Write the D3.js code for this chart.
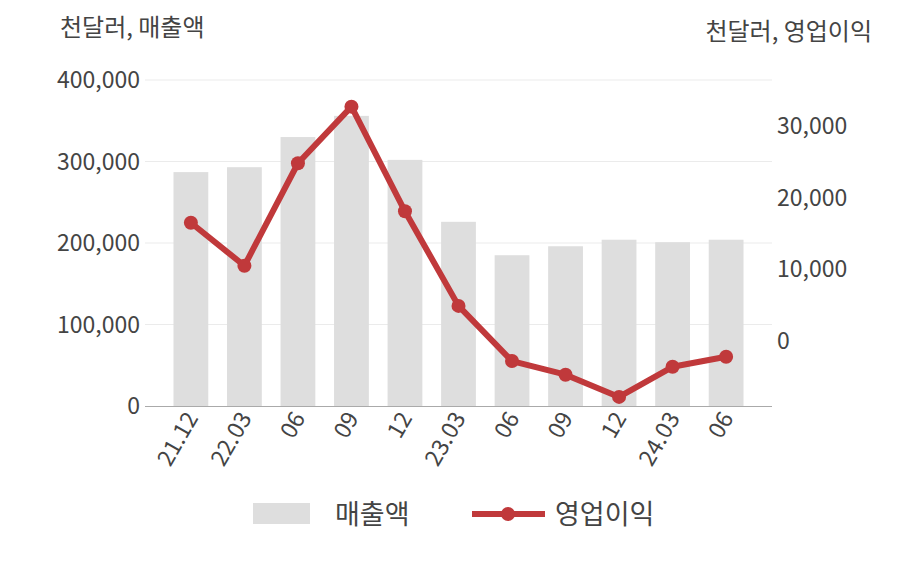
<!DOCTYPE html>
<html><head><meta charset="utf-8">
<script src="https://cdn.jsdelivr.net/npm/d3@7"></script>
<style>body{margin:0;background:#fff}text{font-family:"Noto Sans CJK KR","Noto Sans",sans-serif;fill:#444}</style>
</head><body><svg id="c" width="908" height="580"></svg>
<script>
const periods = ["21.12","22.03","06","09","12","23.03","06","09","12","24.03","06"];
const sales = [287000,293000,330000,356000,302000,226000,185000,196000,204000,201000,204000];
const profit = [16500,10500,24800,32700,18100,4900,-2800,-4700,-7800,-3600,-2200];
const leftTicks = [0,100000,200000,300000,400000];
const rightTicks = [0,10000,20000,30000];

const svg = d3.select("#c");
const red = "#c0393b";
const x = d3.scaleBand().domain(d3.range(periods.length)).range([173.5,743.5]).paddingInner(0.35).paddingOuter(0);
const yL = d3.scaleLinear().domain([0,400000]).range([406,80]);
const yR = d3.scaleLinear().domain([-9070,36418]).range([406,80]);
const fmt = d3.format(",");

svg.selectAll("line.g").data(leftTicks.slice(1)).enter().append("line")
  .attr("x1",145).attr("x2",772).attr("y1",d=>yL(d)).attr("y2",d=>yL(d)).attr("stroke","#ebebeb");
svg.selectAll("text.l").data(leftTicks).enter().append("text")
  .attr("x",140).attr("y",d=>yL(d)+8).attr("text-anchor","end").attr("font-size",23).text(fmt);
svg.selectAll("text.r").data(rightTicks).enter().append("text")
  .attr("x",777).attr("y",d=>yR(d)+8).attr("font-size",23).text(fmt);
svg.append("text").attr("x",60).attr("y",36).attr("font-size",24).text("천달러, 매출액");
svg.append("text").attr("x",872).attr("y",40).attr("text-anchor","end").attr("font-size",24).text("천달러, 영업이익");

svg.selectAll("rect.b").data(sales).enter().append("rect")
  .attr("x",(d,i)=>x(i)).attr("width",x.bandwidth()).attr("y",d=>yL(d)).attr("height",d=>406-yL(d)).attr("fill","#dedede");
svg.append("line").attr("x1",145).attr("x2",772).attr("y1",406.5).attr("y2",406.5).attr("stroke","#aaa");

svg.selectAll("text.x").data(periods).enter().append("text")
  .attr("font-size",23).attr("text-anchor","end")
  .attr("transform",(d,i)=>`translate(${x(i)+x.bandwidth()/2+8},${418}) rotate(-60)`).text(d=>d);

const cx = i=>x(i)+x.bandwidth()/2;
svg.append("path").datum(profit).attr("fill","none").attr("stroke",red).attr("stroke-width",6).attr("stroke-linejoin","round")
  .attr("d",d3.line().x((d,i)=>cx(i)).y(d=>yR(d)));
svg.selectAll("circle.p").data(profit).enter().append("circle")
  .attr("cx",(d,i)=>cx(i)).attr("cy",d=>yR(d)).attr("r",7).attr("fill",red);

svg.append("rect").attr("x",253).attr("y",503).attr("width",57).attr("height",21).attr("fill","#dedede");
svg.append("text").attr("x",335).attr("y",524).attr("font-size",27).text("매출액");
svg.append("line").attr("x1",472).attr("x2",545).attr("y1",514).attr("y2",514).attr("stroke",red).attr("stroke-width",6);
svg.append("circle").attr("cx",508).attr("cy",514).attr("r",7).attr("fill",red);
svg.append("text").attr("x",555).attr("y",524).attr("font-size",27).text("영업이익");
</script></body></html>
